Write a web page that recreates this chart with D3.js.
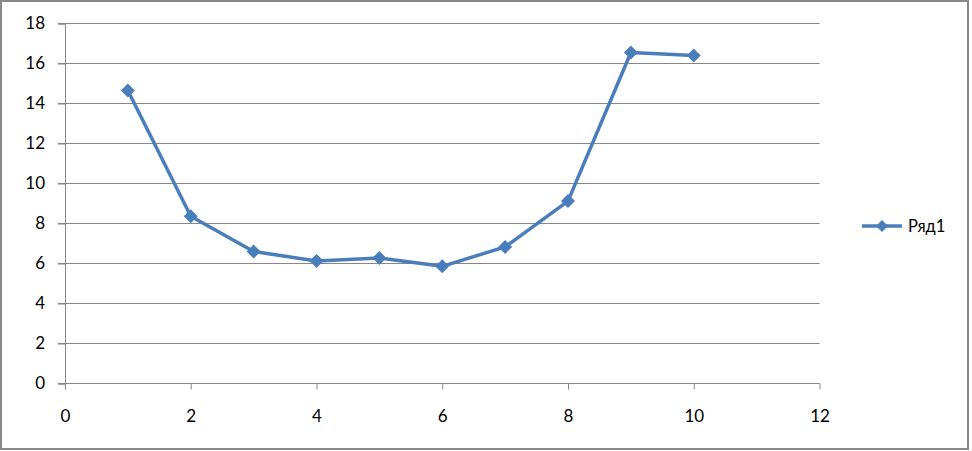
<!DOCTYPE html>
<html><head><meta charset="utf-8">
<script src="https://cdn.jsdelivr.net/npm/d3@7"></script>
<style>body{margin:0;background:#fff}svg{display:block}</style>
</head><body>
<svg id="c" width="972" height="451"></svg>
<script>
const xValues = [1, 2, 3, 4, 5, 6, 7, 8, 9, 10];
const seriesValues = [14.65, 8.36, 6.6, 6.13, 6.28, 5.86, 6.83, 9.12, 16.55, 16.4];
const seriesName = "Ряд1";
const yTicks = [0, 2, 4, 6, 8, 10, 12, 14, 16, 18];
const xTicks = [0, 2, 4, 6, 8, 10, 12];

const svg = d3.select("#c");
const font = "Lato, 'Open Sans', sans-serif";
const color = "#4a7ebb";
const grid = "#878787";

svg.append("rect").attr("x", 1).attr("y", 1).attr("width", 967).attr("height", 448)
  .attr("fill", "#fff").attr("stroke", "#888").attr("stroke-width", 2);

const x = d3.scaleLinear().domain([0, 12]).range([65, 819.5]);
const y = d3.scaleLinear().domain([0, 18]).range([383.5, 23.5]);

// gridlines
svg.append("g").selectAll("line").data(yTicks).join("line")
  .attr("x1", 58).attr("x2", x(12)).attr("y1", d => y(d)).attr("y2", d => y(d))
  .attr("stroke", grid).attr("stroke-width", 1);

// y axis
const ya = svg.append("g").attr("transform", `translate(${x(0)},0)`)
  .call(d3.axisLeft(y).tickValues(yTicks).tickSize(7).tickPadding(13));
ya.select(".domain").attr("stroke", grid);
ya.selectAll(".tick line").attr("stroke", grid);
ya.selectAll("text").attr("font-family", font).attr("font-size", 17).attr("fill", "#000");

// x axis
const xa = svg.append("g").attr("transform", `translate(0,${y(0)})`)
  .call(d3.axisBottom(x).tickValues(xTicks).tickSize(6).tickPadding(20));
xa.select(".domain").attr("stroke", grid).attr("d", `M${x(0)},0H${x(12)}`);
xa.selectAll(".tick line").attr("stroke", grid);
xa.selectAll("text").attr("font-family", font).attr("font-size", 17).attr("fill", "#000");

// series
const data = xValues.map((v, i) => [v, seriesValues[i]]);
svg.append("path").datum(data)
  .attr("d", d3.line().x(d => x(d[0])).y(d => y(d[1])))
  .attr("fill", "none").attr("stroke", color).attr("stroke-width", 3.5)
  .attr("stroke-linejoin", "round");
svg.append("g").selectAll("path").data(data).join("path")
  .attr("transform", d => `translate(${x(d[0])},${y(d[1])})`)
  .attr("d", "M0,-7L7,0L0,7L-7,0Z")
  .attr("fill", color);

// legend
const lg = svg.append("g");
lg.append("line").attr("x1", 862).attr("x2", 902).attr("y1", 226).attr("y2", 226)
  .attr("stroke", color).attr("stroke-width", 3.5);
lg.append("path").attr("d", "M882,220L888,226L882,232L876,226Z").attr("fill", color);
lg.append("text").attr("x", 908).attr("y", 232).text(seriesName)
  .attr("font-family", font).attr("font-size", 16.5).attr("fill", "#000");
</script>
</body></html>
